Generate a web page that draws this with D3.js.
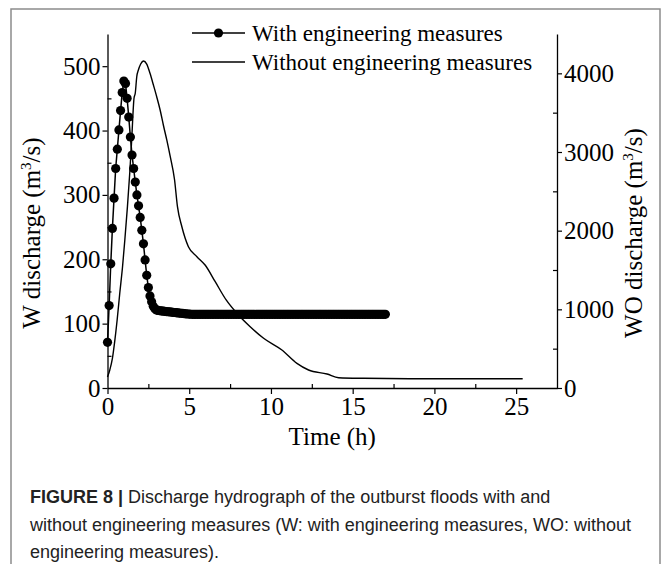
<!DOCTYPE html>
<html>
<head>
<meta charset="utf-8">
<script src="https://cdn.jsdelivr.net/npm/d3@7"></script>
<style>
  html, body { margin: 0; padding: 0; background: #fff; }
  svg { display: block; }
</style>
</head>
<body>
<div id="chart"></div>
<script>
// With engineering measures (left axis), time in hours
const wTime = [
  0.0, 0.1, 0.2, 0.3, 0.4, 0.5, 0.6, 0.7, 0.8, 0.9,
  1.0, 1.1, 1.2, 1.3, 1.4, 1.5, 1.6, 1.7, 1.8, 1.9,
  2.0, 2.1, 2.2, 2.3, 2.4, 2.5, 2.6, 2.7, 2.8, 2.9,
  3.0, 3.1, 3.2, 3.3, 3.4, 3.5, 3.6, 3.7, 3.8, 3.9,
  4.0, 4.1, 4.2, 4.3, 4.4, 4.5, 4.6, 4.7, 4.8, 4.9,
  5.0, 5.1, 5.2, 5.3, 5.4, 5.5, 5.6, 5.7, 5.8, 5.9,
  6.0, 6.1, 6.2, 6.3, 6.4, 6.5, 6.6, 6.7, 6.8, 6.9,
  7.0, 7.1, 7.2, 7.3, 7.4, 7.5, 7.6, 7.7, 7.8, 7.9,
  8.0, 8.1, 8.2, 8.3, 8.4, 8.5, 8.6, 8.7, 8.8, 8.9,
  9.0, 9.1, 9.2, 9.3, 9.4, 9.5, 9.6, 9.7, 9.8, 9.9,
  10.0, 10.1, 10.2, 10.3, 10.4, 10.5, 10.6, 10.7, 10.8, 10.9,
  11.0, 11.1, 11.2, 11.3, 11.4, 11.5, 11.6, 11.7, 11.8, 11.9,
  12.0, 12.1, 12.2, 12.3, 12.4, 12.5, 12.6, 12.7, 12.8, 12.9,
  13.0, 13.1, 13.2, 13.3, 13.4, 13.5, 13.6, 13.7, 13.8, 13.9,
  14.0, 14.1, 14.2, 14.3, 14.4, 14.5, 14.6, 14.7, 14.8, 14.9,
  15.0, 15.1, 15.2, 15.3, 15.4, 15.5, 15.6, 15.7, 15.8, 15.9,
  16.0, 16.1, 16.2, 16.3, 16.4, 16.5, 16.6, 16.7, 16.8, 16.9,
  17.0
];
const wDischarge = [
  71, 128, 193, 248, 295, 341, 371, 401, 431, 459,
  477, 473, 450, 421, 390, 362, 341, 320, 300, 283,
  265, 245, 224, 199, 175, 156, 143, 134, 127, 123,
  121, 120.5, 120, 119.7, 119.4, 119.1, 118.8, 118.5, 118.2, 117.9,
  117.6, 117.3, 117, 116.7, 116.4, 116.1, 115.8, 115.5, 115.2, 115,
  114.8, 114.6, 114.5, 114.5, 114.5, 114.5, 114.5, 114.5, 114.5, 114.5,
  114.5, 114.5, 114.5, 114.5, 114.5, 114.5, 114.5, 114.5, 114.5, 114.5,
  114.5, 114.5, 114.5, 114.5, 114.5, 114.5, 114.5, 114.5, 114.5, 114.5,
  114.5, 114.5, 114.5, 114.5, 114.5, 114.5, 114.5, 114.5, 114.5, 114.5,
  114.5, 114.5, 114.5, 114.5, 114.5, 114.5, 114.5, 114.5, 114.5, 114.5,
  114.5, 114.5, 114.5, 114.5, 114.5, 114.5, 114.5, 114.5, 114.5, 114.5,
  114.5, 114.5, 114.5, 114.5, 114.5, 114.5, 114.5, 114.5, 114.5, 114.5,
  114.5, 114.5, 114.5, 114.5, 114.5, 114.5, 114.5, 114.5, 114.5, 114.5,
  114.5, 114.5, 114.5, 114.5, 114.5, 114.5, 114.5, 114.5, 114.5, 114.5,
  114.5, 114.5, 114.5, 114.5, 114.5, 114.5, 114.5, 114.5, 114.5, 114.5,
  114.5, 114.5, 114.5, 114.5, 114.5, 114.5, 114.5, 114.5, 114.5, 114.5,
  114.5, 114.5, 114.5, 114.5, 114.5, 114.5, 114.5, 114.5, 114.5, 114.5,
  114.5
];

// Without engineering measures (right axis)
const woTime = [
  0.0, 0.14, 0.3, 0.44, 0.59, 0.75, 0.92, 1.06, 1.22, 1.36,
  1.48, 1.56, 1.62, 1.7, 1.79, 1.89, 2.03, 2.2, 2.4, 2.6,
  2.81, 3.01, 3.22, 3.42, 3.63, 3.83, 4.1, 4.28, 4.55, 4.95,
  5.47, 5.97, 6.59, 7.26, 8.01, 8.73, 9.55, 10.67, 11.59, 12.3,
  13.43, 14.14, 15.67, 18.5, 25.4
];
const woDischarge = [
  140, 229, 377, 589, 864, 1204, 1542, 1881, 2305, 2729,
  3152, 3492, 3680, 3750, 3957, 4042, 4118, 4157, 4118, 4000,
  3851, 3703, 3534, 3340, 3150, 2950, 2650, 2305, 2050, 1796,
  1669, 1563, 1351, 1119, 928, 779, 632, 483, 313, 229,
  178, 131, 123, 118, 118
];

// Tick values
const xTicks = [0, 5, 10, 15, 20, 25];
const xMinor = [2.5, 7.5, 12.5, 17.5, 22.5];
const leftTicks = [0, 100, 200, 300, 400, 500];
const leftMinor = [50, 150, 250, 350, 450];
const rightTicks = [0, 1000, 2000, 3000, 4000];
const rightMinor = [500, 1500, 2500, 3500];

const legendLabels = ["With engineering measures", "Without engineering measures"];
const captionLines = [
  " Discharge hydrograph of the outburst floods with and",
  "without engineering measures (W: with engineering measures, WO: without",
  "engineering measures)."
];

document.addEventListener("DOMContentLoaded", function() {
  const width = 665, height = 564;
  const serif = "'Liberation Serif', 'Times New Roman', serif";
  const sans = "'Liberation Sans', Arial, sans-serif";

  const plot = { left: 107.5, right: 557, top: 34, bottom: 388 };

  const svg = d3.select("#chart").append("svg")
    .attr("width", width)
    .attr("height", height);

  // Figure frame (open at the bottom)
  svg.append("path")
    .attr("d", `M11,${height} V9 H660 V${height}`)
    .attr("fill", "none")
    .attr("stroke", "#8c8c8c")
    .attr("stroke-width", 1.5);

  const x = d3.scaleLinear().domain([0, 27.5]).range([plot.left, plot.right]);
  const yL = d3.scaleLinear().domain([0, 550]).range([plot.bottom, plot.top]);
  const yR = d3.scaleLinear().domain([0, 4500]).range([plot.bottom, plot.top]);

  // Axes: major ticks outward, minor ticks inward
  function styleAxis(g) {
    g.selectAll("path.domain").attr("stroke", "#000").attr("stroke-width", 1.3);
    g.selectAll(".tick line").attr("stroke", "#000").attr("stroke-width", 1.2);
    g.selectAll("text")
      .attr("fill", "#000")
      .style("font-family", serif)
      .style("font-size", "25px");
  }

  svg.append("g")
    .attr("transform", `translate(0,${plot.bottom})`)
    .call(d3.axisBottom(x).tickValues(xTicks).tickSize(6).tickPadding(3).tickSizeOuter(0))
    .call(styleAxis);
  svg.append("g")
    .attr("transform", `translate(0,${plot.bottom})`)
    .call(d3.axisTop(x).tickValues(xMinor).tickSize(4).tickFormat("").tickSizeOuter(0))
    .call(g => g.select(".domain").remove())
    .call(styleAxis);

  svg.append("g")
    .attr("transform", `translate(${plot.left},0)`)
    .call(d3.axisLeft(yL).tickValues(leftTicks).tickSize(5).tickPadding(2).tickSizeOuter(0))
    .call(styleAxis);
  svg.append("g")
    .attr("transform", `translate(${plot.left},0)`)
    .call(d3.axisRight(yL).tickValues(leftMinor).tickSize(4).tickFormat("").tickSizeOuter(0))
    .call(g => g.select(".domain").remove())
    .call(styleAxis);

  svg.append("g")
    .attr("transform", `translate(${plot.right},0)`)
    .call(d3.axisRight(yR).tickValues(rightTicks).tickSize(5).tickPadding(2)
      .tickFormat(d3.format("d")).tickSizeOuter(0))
    .call(styleAxis);
  svg.append("g")
    .attr("transform", `translate(${plot.right},0)`)
    .call(d3.axisLeft(yR).tickValues(rightMinor).tickSize(4).tickFormat("").tickSizeOuter(0))
    .call(g => g.select(".domain").remove())
    .call(styleAxis);

  // Axis titles
  function dischargeTitle(sel, prefix) {
    sel.append("tspan").text(prefix + " discharge (m");
    sel.append("tspan").attr("dy", -9).style("font-size", "15px").text("3");
    sel.append("tspan").attr("dy", 9).text("/s)");
  }
  svg.append("text")
    .attr("transform", "translate(40,233) rotate(-90)")
    .attr("text-anchor", "middle")
    .style("font-family", serif)
    .style("font-size", "25px")
    .call(dischargeTitle, "W");
  svg.append("text")
    .attr("transform", "translate(642,233) rotate(-90)")
    .attr("text-anchor", "middle")
    .style("font-family", serif)
    .style("font-size", "25px")
    .call(dischargeTitle, "WO");
  svg.append("text")
    .attr("x", (plot.left + plot.right) / 2)
    .attr("y", 445)
    .attr("text-anchor", "middle")
    .style("font-family", serif)
    .style("font-size", "25px")
    .text("Time (h)");

  // Without engineering measures line
  const woData = woTime.map((t, i) => ({ t: t, v: woDischarge[i] }));
  svg.append("path")
    .datum(woData)
    .attr("fill", "none")
    .attr("stroke", "#000")
    .attr("stroke-width", 1.4)
    .attr("d", d3.line().x(d => x(d.t)).y(d => yR(d.v)).curve(d3.curveMonotoneX));

  // With engineering measures line + dots
  const wData = wTime.map((t, i) => ({ t: t, v: wDischarge[i] }));
  svg.append("path")
    .datum(wData)
    .attr("fill", "none")
    .attr("stroke", "#000")
    .attr("stroke-width", 1.5)
    .attr("d", d3.line().x(d => x(d.t)).y(d => yL(d.v)));
  svg.append("g").selectAll("circle")
    .data(wData)
    .enter()
    .append("circle")
    .attr("cx", d => x(d.t))
    .attr("cy", d => yL(d.v))
    .attr("r", 4.6)
    .attr("fill", "#000");

  // Legend
  const legend = svg.append("g").attr("transform", "translate(192,33)");
  legendLabels.forEach((label, i) => {
    const row = legend.append("g").attr("transform", `translate(0,${i * 29})`);
    row.append("line")
      .attr("x1", 0).attr("x2", 53)
      .attr("stroke", "#000")
      .attr("stroke-width", 1.5);
    if (i === 0) {
      row.append("circle").attr("cx", 26.5).attr("r", 4.6).attr("fill", "#000");
    }
    row.append("text")
      .attr("x", 60)
      .attr("y", 8)
      .style("font-family", serif)
      .style("font-size", "23px")
      .text(label);
  });

  // Caption
  const caption = svg.append("g")
    .style("font-family", sans)
    .style("font-size", "18px")
    .attr("fill", "#222");
  const first = caption.append("text").attr("x", 30).attr("y", 503);
  first.append("tspan").style("font-weight", "bold").text("FIGURE 8 |");
  first.append("tspan").text(captionLines[0]);
  caption.append("text").attr("x", 30).attr("y", 531).text(captionLines[1]);
  caption.append("text").attr("x", 30).attr("y", 558).text(captionLines[2]);
});
</script>
</body>
</html>
